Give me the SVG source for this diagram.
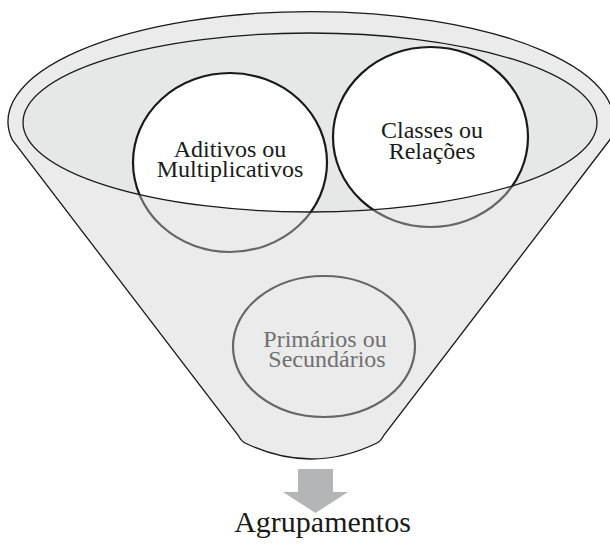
<svg xmlns="http://www.w3.org/2000/svg" width="610" height="548" viewBox="0 0 610 548">
<style>
.ln{stroke:#1a1a1a;stroke-width:1.3;}
.cUp{fill:#ffffff;stroke:#1a1a1a;stroke-width:2.2;}
.cLo{fill:#ebebeb;stroke:#666666;stroke-width:2.2;}
.t{font-family:"Liberation Serif","Times New Roman",serif;font-size:24px;text-anchor:middle;fill:#1a1a1a;}
.tg{fill:#707070;}
</style>
<defs>
<clipPath id="upper"><ellipse cx="310" cy="122.5" rx="287" ry="89.5"/></clipPath>
<clipPath id="lower"><path clip-rule="evenodd" d="M0,0H610V548H0Z M23,122.5 A287,89.5 0 1 0 597,122.5 A287,89.5 0 1 0 23,122.5Z"/></clipPath>
</defs>
<g id="funnel">
<path class="ln" fill="#ebebeb" d="M12.3,140 A303,110 0 1 1 609.7,140 L384,435 Q381,441 377,443 Q311,475 245,443 Q241,441 238,435 Z"/>
<ellipse cx="310" cy="122.5" rx="287" ry="89.5" fill="#e6e8e8"/>
</g>
<g id="aditivos">
<ellipse class="cUp" clip-path="url(#upper)" cx="230" cy="162.5" rx="97" ry="89.5"/>
<ellipse class="cLo" clip-path="url(#lower)" cx="230" cy="162.5" rx="97" ry="89.5"/>
<text class="t" x="230" y="157">Aditivos ou</text>
<text class="t" x="230" y="177">Multiplicativos</text>
</g>
<g id="classes">
<ellipse class="cUp" clip-path="url(#upper)" cx="430.5" cy="137" rx="97.5" ry="90"/>
<ellipse class="cLo" clip-path="url(#lower)" cx="430.5" cy="137" rx="97.5" ry="90"/>
<text class="t" x="432" y="138">Classes ou</text>
<text class="t" x="432" y="159">Relações</text>
</g>
<g id="inner-rim">
<ellipse class="ln" fill="none" cx="310" cy="122.5" rx="287" ry="89.5"/>
</g>
<g id="primarios">
<ellipse class="cLo" cx="324" cy="346.5" rx="91" ry="70.5"/>
<text class="t tg" x="325" y="347">Primários ou</text>
<text class="t tg" x="327" y="367">Secundários</text>
</g>
<g id="connectors">
<polygon fill="#b4b5b7" points="298,469 333,469 333,492 348,492 315.5,513 283,492 298,492"/>
</g>
<g id="agrupamentos">
<text class="t" style="font-size:30px" x="322.5" y="532">Agrupamentos</text>
</g>
</svg>
